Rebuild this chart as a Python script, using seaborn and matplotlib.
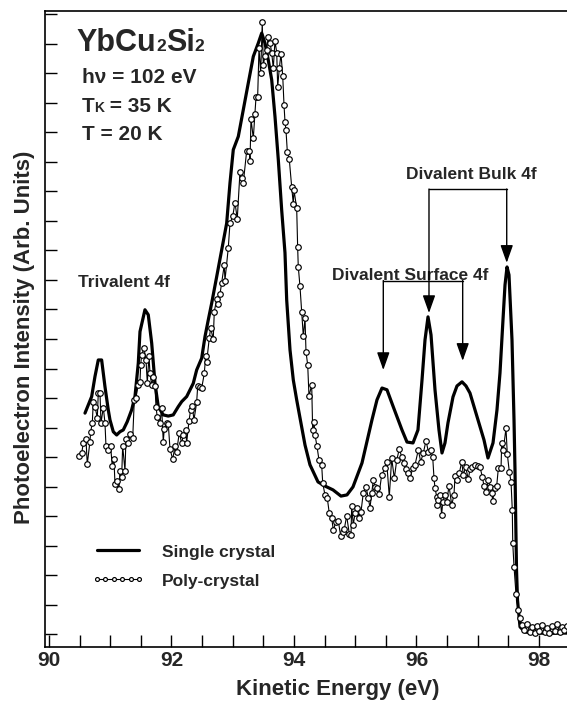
import matplotlib
matplotlib.use("Agg")
import matplotlib.pyplot as plt
import seaborn as sns
import numpy as np

# ---------------- data ----------------
single_energy = [90.588, 90.697, 90.751, 90.805, 90.860, 90.914, 90.968, 90.996, 91.050, 91.105,
                 91.159, 91.213, 91.278, 91.350, 91.404, 91.458, 91.486, 91.567, 91.621, 91.677,
                 91.731, 91.784, 91.866, 91.948, 92.029, 92.111, 92.167, 92.248, 92.356, 92.411,
                 92.493, 92.547, 92.601, 92.656, 92.738, 92.820, 92.901, 92.955, 93.009, 93.091,
                 93.172, 93.254, 93.336, 93.417, 93.473, 93.527, 93.580, 93.636, 93.690, 93.744,
                 93.799, 93.853, 93.881, 93.935, 93.989, 94.044, 94.098, 94.180, 94.261, 94.392,
                 94.506, 94.637, 94.767, 94.865, 94.963, 95.110, 95.273, 95.355, 95.437, 95.518,
                 95.616, 95.763, 95.845, 95.943, 96.024, 96.090, 96.139, 96.188, 96.237, 96.302,
                 96.367, 96.416, 96.465, 96.514, 96.596, 96.661, 96.743, 96.808, 96.873, 97.004,
                 97.102, 97.167, 97.249, 97.314, 97.363, 97.412, 97.445, 97.478, 97.510, 97.559,
                 97.592, 97.608, 97.620, 97.633, 97.649, 97.690, 97.771, 97.886, 98.016, 98.180,
                 98.343, 98.457]
single_intensity = [7.49, 8.05, 8.73, 9.29, 9.29, 8.39, 7.60, 7.26, 6.86, 6.75,
                    6.86, 6.92, 7.20, 7.60, 8.05, 9.18, 10.25, 10.99, 10.82, 9.86,
                    8.50, 7.71, 7.43, 7.39, 7.43, 7.71, 7.88, 8.05, 8.50, 8.95,
                    9.35, 10.08, 10.65, 11.21, 12.11, 13.02, 13.92, 15.28, 16.41, 16.86,
                    17.76, 18.67, 19.57, 20.02, 20.36, 20.02, 19.45, 18.78, 17.53, 16.07,
                    14.37, 12.92, 11.32, 9.63, 8.61, 7.94, 7.33, 6.41, 5.74, 5.16,
                    5.02, 4.89, 4.68, 4.72, 4.99, 5.80, 7.26, 7.94, 8.34, 8.28,
                    7.73, 6.92, 6.51, 6.48, 6.92, 8.61, 9.97, 10.75, 10.14, 8.28,
                    6.92, 6.14, 6.48, 7.16, 8.04, 8.41, 8.55, 8.41, 8.17, 7.26,
                    6.58, 5.97, 6.48, 7.60, 8.85, 10.65, 11.83, 12.44, 12.17, 9.97,
                    7.26, 5.57, 3.87, 2.18, 1.16, 0.25, 0.08, 0.04, 0.04, 0.03,
                    0.04, 0.04]

poly_energy = [90.495, 90.534, 90.560, 90.604, 90.625, 90.669, 90.681, 90.707, 90.723, 90.751,
               90.789, 90.805, 90.833, 90.849, 90.887, 90.914, 90.931, 90.968, 91.007, 91.033,
               91.061, 91.078, 91.115, 91.143, 91.159, 91.187, 91.203, 91.241, 91.257, 91.295,
               91.322, 91.367, 91.393, 91.420, 91.458, 91.486, 91.497, 91.513, 91.551, 91.584,
               91.605, 91.633, 91.649, 91.677, 91.703, 91.731, 91.747, 91.768, 91.812, 91.840,
               91.866, 91.882, 91.922, 91.948, 91.976, 92.020, 92.057, 92.085, 92.127, 92.167,
               92.193, 92.232, 92.248, 92.286, 92.313, 92.340, 92.367, 92.411, 92.428, 92.465,
               92.493, 92.536, 92.558, 92.575, 92.617, 92.640, 92.682, 92.699, 92.738, 92.764,
               92.792, 92.820, 92.862, 92.873, 92.927, 92.955, 92.999, 93.037, 93.074, 93.118,
               93.146, 93.172, 93.228, 93.270, 93.282, 93.298, 93.336, 93.363, 93.380, 93.407,
               93.429, 93.456, 93.482, 93.499, 93.527, 93.554, 93.580, 93.608, 93.636, 93.662,
               93.690, 93.718, 93.734, 93.760, 93.788, 93.816, 93.837, 93.853, 93.869, 93.891,
               93.923, 93.962, 93.989, 94.000, 94.044, 94.060, 94.070, 94.098, 94.126, 94.152,
               94.180, 94.196, 94.224, 94.245, 94.289, 94.305, 94.327, 94.343, 94.376, 94.408,
               94.452, 94.469, 94.506, 94.544, 94.576, 94.616, 94.642, 94.686, 94.723, 94.762,
               94.795, 94.821, 94.860, 94.903, 94.931, 94.942, 94.968, 94.996, 95.034, 95.066,
               95.094, 95.131, 95.176, 95.213, 95.241, 95.269, 95.295, 95.322, 95.350, 95.388,
               95.432, 95.486, 95.513, 95.556, 95.595, 95.638, 95.677, 95.719, 95.758, 95.796,
               95.829, 95.866, 95.894, 95.938, 95.976, 96.029, 96.069, 96.111, 96.155, 96.193,
               96.232, 96.264, 96.286, 96.302, 96.330, 96.340, 96.356, 96.384, 96.411, 96.428,
               96.465, 96.493, 96.531, 96.575, 96.612, 96.629, 96.666, 96.699, 96.738, 96.764,
               96.803, 96.846, 96.873, 96.911, 96.955, 96.999, 97.037, 97.074, 97.102, 97.135,
               97.172, 97.200, 97.228, 97.244, 97.282, 97.309, 97.336, 97.380, 97.391, 97.417,
               97.461, 97.482, 97.515, 97.543, 97.564, 97.571, 97.592, 97.624, 97.662, 97.690,
               97.722, 97.763, 97.804, 97.845, 97.886, 97.927, 97.967, 98.008, 98.049, 98.090,
               98.131, 98.171, 98.212, 98.253, 98.294, 98.335, 98.376, 98.416, 98.457]
poly_intensity = [6.05, 6.13, 6.47, 6.62, 5.76, 6.52, 6.86, 7.15, 7.85, 7.71,
                  7.34, 8.16, 8.18, 7.15, 7.68, 7.17, 6.36, 6.24, 6.36, 5.70,
                  5.93, 5.08, 5.20, 4.91, 5.54, 5.34, 6.38, 5.54, 6.63, 6.47,
                  6.78, 6.64, 7.94, 8.01, 8.45, 8.56, 9.12, 9.46, 9.69, 9.29,
                  8.52, 9.43, 8.84, 8.45, 8.71, 8.41, 7.71, 7.35, 7.15, 7.66,
                  6.52, 6.95, 7.15, 7.12, 6.27, 5.93, 6.36, 6.19, 6.83, 6.47,
                  6.75, 6.92, 6.49, 7.23, 7.60, 7.73, 7.26, 7.85, 8.41, 8.37,
                  8.33, 8.84, 9.43, 9.23, 10.03, 10.37, 9.99, 10.93, 11.35, 11.19,
                  11.52, 11.91, 12.51, 11.98, 13.08, 13.92, 14.15, 14.62, 14.07, 15.65,
                  15.45, 15.28, 16.38, 16.38, 16.04, 17.45, 16.80, 17.62, 18.19, 18.21,
                  19.85, 19.00, 20.73, 19.29, 19.57, 19.79, 20.24, 20.04, 19.70, 19.17,
                  20.10, 19.70, 18.53, 19.17, 19.65, 18.91, 17.93, 17.36, 17.08, 16.35,
                  16.09, 15.16, 14.57, 15.05, 14.43, 13.10, 12.45, 11.78, 10.93, 10.10,
                  10.70, 9.57, 9.12, 8.06, 8.45, 6.92, 7.20, 6.75, 6.36, 5.90,
                  5.74, 5.12, 4.72, 4.61, 4.10, 3.93, 3.53, 3.81, 3.85, 3.33,
                  3.48, 3.56, 4.01, 3.40, 3.36, 4.35, 3.70, 4.10, 4.27, 3.93,
                  4.15, 4.78, 5.00, 4.61, 4.29, 4.78, 5.23, 5.00, 4.95, 4.74,
                  5.40, 5.62, 5.85, 4.66, 5.96, 5.28, 5.90, 6.27, 6.02, 5.79,
                  5.59, 5.47, 5.28, 5.62, 5.74, 6.24, 5.85, 6.13, 6.56, 6.19,
                  6.24, 6.02, 5.28, 4.95, 4.66, 4.38, 4.55, 4.72, 4.04, 4.49,
                  4.72, 4.49, 5.02, 4.38, 4.72, 5.37, 5.23, 5.45, 5.85, 5.40,
                  5.66, 5.25, 5.59, 5.66, 5.74, 5.70, 5.66, 5.34, 5.02, 4.83,
                  5.23, 4.98, 4.80, 4.53, 4.95, 5.02, 5.62, 5.62, 6.47, 6.24,
                  6.98, 6.11, 5.51, 5.17, 4.21, 3.10, 2.29, 1.37, 0.82, 0.54,
                  0.32, 0.15, 0.35, 0.08, 0.25, 0.04, 0.28, 0.11, 0.32, 0.08,
                  0.21, 0.04, 0.28, 0.11, 0.35, 0.08, 0.25, 0.15, 0.28]

series_labels = ["Single crystal", "Poly-crystal"]
x_tick_labels = ["90", "92", "94", "96", "98"]

# annotation anchors (energy, intensity)
surface_peaks = [95.458, 96.754]
surface_tips = [8.95, 9.26]
surface_bar = 11.98
bulk_peaks = [96.204, 97.473]
bulk_tips = [10.88, 12.58]
bulk_bar = 15.08

# ---------------- style ----------------
sns.set_style("ticks")
plt.rcParams["font.family"] = ["Liberation Sans", "DejaVu Sans"]
plt.rcParams["font.weight"] = "bold"
plt.rcParams["axes.linewidth"] = 1.2

fig = plt.figure(figsize=(5.67, 7.03), dpi=100)
ax = fig.add_axes([0.0788, 0.0797, 0.9212, 0.9047])

sns.lineplot(x=single_energy, y=single_intensity, estimator=None, sort=False,
             color="black", linewidth=2.3, ax=ax, label=series_labels[0])
sns.lineplot(x=poly_energy, y=poly_intensity, estimator=None, sort=False,
             color="black", linewidth=0.8, marker="o", markersize=4.0,
             markerfacecolor="white", markeredgecolor="black", markeredgewidth=0.85,
             ax=ax, label=series_labels[1])
handles = ax.get_lines()[:2]

ax.set_xlim(89.93, 98.457)
ax.set_ylim(-0.43, 21.11)

ax.set_xticks([float(t) for t in x_tick_labels])
ax.set_xticklabels(x_tick_labels, fontsize=15, fontweight="bold")
ax.set_xticks(np.arange(90, 98.5, 0.5), minor=True)
ax.set_yticks(np.arange(0, 22, 1))
ax.set_yticklabels([])
ax.tick_params(axis="both", which="both", direction="in", length=8.5, width=1.0,
               color="black")
ax.tick_params(axis="x", which="major", pad=3)
ax.tick_params(left=True, bottom=True, top=False, right=False)

for s in ["left", "bottom", "top"]:
    ax.spines[s].set_visible(True)
    ax.spines[s].set_color("black")
    ax.spines[s].set_linewidth(1.2)
ax.spines["right"].set_visible(False)

ax.set_xlabel("Kinetic Energy (eV)", fontsize=16, fontweight="bold")
ax.xaxis.set_label_coords(0.5616, -0.0505)
ax.set_ylabel("Photoelectron Intensity (Arb. Units)", fontsize=16, fontweight="bold")
ax.yaxis.set_label_coords(-0.0186, 0.487)

# legend
leg = ax.legend(handles=handles, labels=series_labels, loc="center left",
                bbox_to_anchor=(0.09, 0.1266), frameon=False, handlelength=3.05,
                handletextpad=1.0, labelspacing=0.8, numpoints=6, markerscale=0.7,
                borderpad=0, borderaxespad=0,
                prop={"family": "Liberation Sans", "weight": "bold", "size": 12.5})

# title block
def chain(prev, txt, size, yb):
    return ax.annotate(txt, xy=(1, yb), xycoords=(prev, "data"), ha="left",
                       va="baseline", fontsize=size, fontweight="bold")

t = ax.text(90.452, 19.74, "YbCu", fontsize=22, fontweight="bold", va="baseline", ha="left")
t = chain(t, "2", 12.5, 19.74)
t = chain(t, "Si", 22, 19.74)
t = chain(t, "2", 12.5, 19.74)

ax.text(90.534, 18.67, "h\u03bd = 102 eV", fontsize=15, fontweight="bold",
        va="baseline", ha="left")
t = ax.text(90.534, 17.70, "T", fontsize=15, fontweight="bold", va="baseline", ha="left")
t = chain(t, "K", 10, 17.70)
t = chain(t, " = 35 K", 15, 17.70)
ax.text(90.534, 16.74, "T = 20 K", fontsize=15, fontweight="bold",
        va="baseline", ha="left")

ax.text(90.478, 11.75, "Trivalent 4f", fontsize=12.5, fontweight="bold",
        va="baseline", ha="left")
ax.text(95.894, 12.00, "Divalent Surface 4f", fontsize=12.5, fontweight="bold",
        va="baseline", ha="center")
ax.text(96.890, 15.41, "Divalent Bulk 4f", fontsize=12.5, fontweight="bold",
        va="baseline", ha="center")

arrow_kw = dict(arrowstyle="-|>,head_length=0.9,head_width=0.32", mutation_scale=12,
                lw=1.0, color="black", shrinkA=0, shrinkB=0)
for xs, tips, bar in [(surface_peaks, surface_tips, surface_bar),
                      (bulk_peaks, bulk_tips, bulk_bar)]:
    ax.plot(xs, [bar, bar], color="black", lw=1.0)
    for xp, tp in zip(xs, tips):
        ax.annotate("", xy=(xp, tp), xytext=(xp, bar), arrowprops=arrow_kw)

fig.savefig("out.png", dpi=100)
